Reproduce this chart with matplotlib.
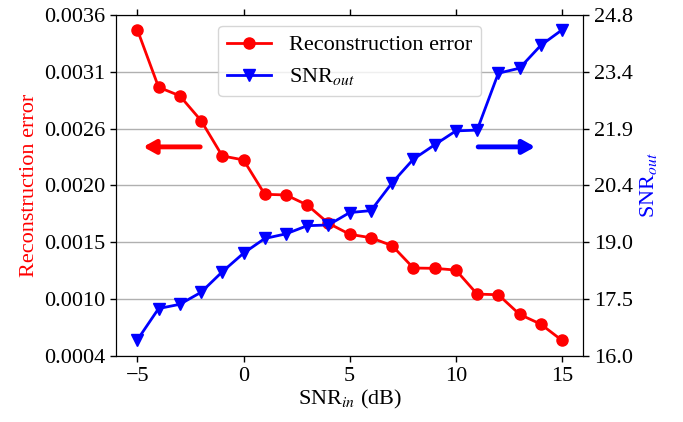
import numpy as np
import matplotlib
matplotlib.use("Agg")
import matplotlib.pyplot as plt
from matplotlib.ticker import FormatStrFormatter

plt.rcParams["font.family"] = ["Liberation Serif", "DejaVu Serif"]
plt.rcParams["mathtext.fontset"] = "stix"
plt.rcParams["font.size"] = 16

snr_in = [-5, -4, -3, -2, -1, 0, 1, 2, 3, 4, 5, 6, 7, 8, 9, 10, 11, 12, 13, 14, 15]
recon_error = [0.003469, 0.002936, 0.002856, 0.002626, 0.002298, 0.002261,
               0.001942, 0.001936, 0.001843, 0.001673, 0.001571, 0.001539,
               0.001465, 0.001258, 0.001255, 0.001239, 0.001016, 0.001010,
               0.000828, 0.000737, 0.000586]
snr_out = [16.44, 17.25, 17.36, 17.67, 18.20, 18.68, 19.06, 19.18, 19.39, 19.41,
           19.73, 19.78, 20.50, 21.11, 21.48, 21.84, 21.86, 23.33, 23.46, 24.05,
           24.45]

fig = plt.figure(figsize=(6.83, 4.22), dpi=100)
ax1 = fig.add_axes([0.170, 0.156, 0.684, 0.809])
ax2 = ax1.twinx()

l1, = ax1.plot(snr_in, recon_error, color="red", marker="o", markersize=8,
               linewidth=2, label="Reconstruction error")
l2, = ax2.plot(snr_in, snr_out, color="blue", marker="v", markersize=8,
               linewidth=2, label="SNR$_{out}$")

ax1.set_xlim(-6, 16)
ax1.set_xticks([-5, 0, 5, 10, 15])
ax1.set_ylim(0.00044, 0.003608)
ax1.set_yticks(np.linspace(0.00044, 0.003608, 7))
ax1.yaxis.set_major_formatter(FormatStrFormatter("%.4f"))
ax2.set_ylim(16.02, 24.84)
ax2.set_yticks(np.linspace(16.02, 24.84, 7))
ax2.yaxis.set_major_formatter(FormatStrFormatter("%.1f"))

ax1.grid(axis="y", color="#b0b0b0", linewidth=1)
ax1.tick_params(top=True, direction="out", length=4, width=1)
ax2.tick_params(direction="out", length=4, width=1)

ax1.set_xlabel("SNR$_{in}$ (dB)", labelpad=2)
ax1.set_ylabel("Reconstruction error", color="red")
ax2.set_ylabel("SNR$_{out}$", color="blue")

# direction arrows pointing at each series' axis
arrow_style = "-|>,head_length=0.45,head_width=0.25"
ax1.annotate("", xy=(0.058, 0.613), xytext=(0.18, 0.613), xycoords="axes fraction",
             arrowprops=dict(arrowstyle=arrow_style, color="red", lw=3.5,
                             capstyle="round", shrinkA=0, shrinkB=0))
ax1.annotate("", xy=(0.897, 0.613), xytext=(0.775, 0.613), xycoords="axes fraction",
             arrowprops=dict(arrowstyle=arrow_style, color="blue", lw=3.5,
                             capstyle="round", shrinkA=0, shrinkB=0))

ax2.legend([l1, l2], [l1.get_label(), l2.get_label()], loc="upper center",
           fontsize=16)

fig.savefig("out.png", dpi=100)
